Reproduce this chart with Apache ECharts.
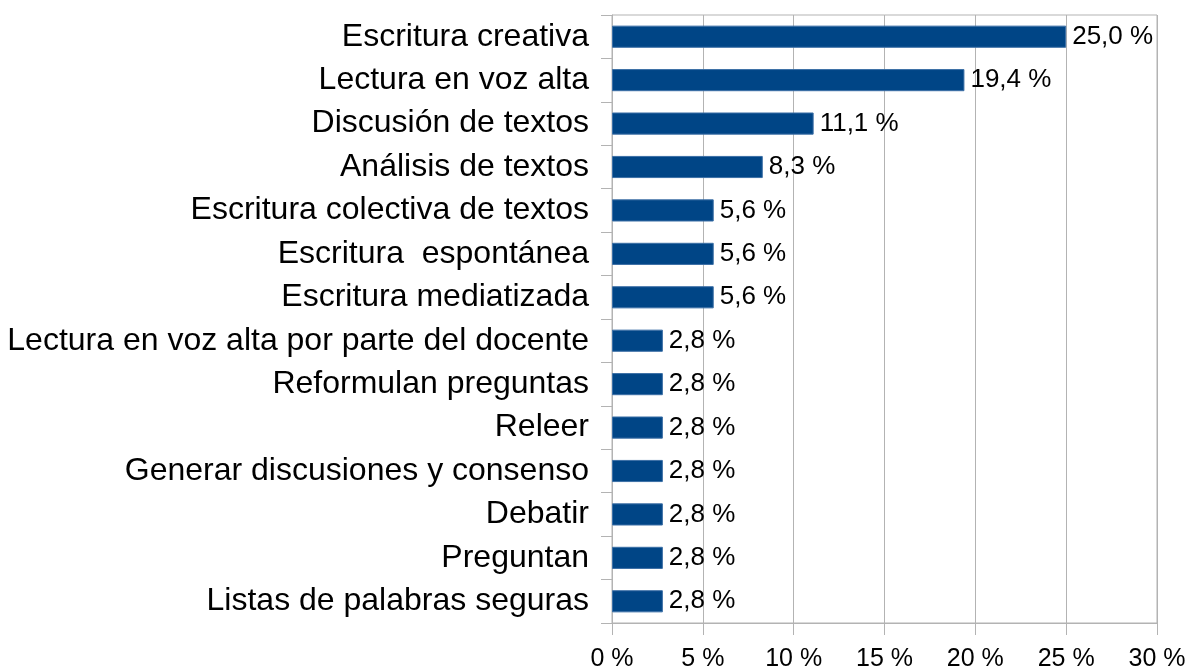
<!DOCTYPE html>
<html>
<head>
<meta charset="utf-8">
<script src="https://cdn.jsdelivr.net/npm/echarts@6/dist/echarts.min.js"></script>
<style>
    html, body { margin: 0; padding: 0; background: #fff; }
    #chart { width: 1188px; height: 666px; }
</style>
</head>
<body>
<div id="chart"></div>
<script>
    // categories top to bottom
    let categories = [
        'Escritura creativa',
        'Lectura en voz alta',
        'Discusión de textos',
        'Análisis de textos',
        'Escritura colectiva de textos',
        'Escritura  espontánea',
        'Escritura mediatizada',
        'Lectura en voz alta por parte del docente',
        'Reformulan preguntas',
        'Releer',
        'Generar discusiones y consenso',
        'Debatir',
        'Preguntan',
        'Listas de palabras seguras'
    ]
    let values = [25.0, 19.4, 11.1, 8.3, 5.6, 5.6, 5.6, 2.8, 2.8, 2.8, 2.8, 2.8, 2.8, 2.8]
    let axisMin = 0
    let axisMax = 30
    let axisStep = 5

    let gray = '#b3b3b3'
    let font = '"Liberation Sans", Arial, sans-serif'

    let myChart = echarts.init(document.getElementById('chart'))
    const option = {
        animation: false,
        color: ['#004586'],
        grid: {
            left: 612,
            right: 31,
            top: 15,
            bottom: 43,
            outerBoundsMode: 'none',
            containLabel: false,
            show: true,
            borderColor: gray,
            borderWidth: 1
        },
        xAxis: {
            type: 'value',
            min: axisMin,
            max: axisMax,
            interval: axisStep,
            axisLine: { show: true, lineStyle: { color: gray } },
            axisTick: { show: true, length: 12, lineStyle: { color: gray } },
            splitLine: { show: true, lineStyle: { color: gray } },
            axisLabel: {
                formatter: '{value} %',
                color: '#000',
                fontSize: 25,
                fontFamily: font,
                margin: 24
            }
        },
        yAxis: {
            type: 'category',
            data: categories,
            inverse: true,
            axisLine: { show: true, lineStyle: { color: gray } },
            axisTick: { show: true, length: 11, lineStyle: { color: gray } },
            splitLine: { show: false },
            axisLabel: {
                color: '#000',
                fontSize: 32,
                fontFamily: font,
                margin: 23
            }
        },
        series: [
            {
                type: 'bar',
                data: values,
                barWidth: '51%',
                itemStyle: { color: '#004586', borderColor: '#3b6fa6', borderWidth: 1 },
                label: {
                    show: true,
                    position: 'right',
                    distance: 6,
                    color: '#000',
                    fontSize: 26,
                    fontFamily: font,
                    formatter: function (p) {
                        return p.value.toFixed(1).replace('.', ',') + ' %'
                    }
                }
            }
        ]
    }
    myChart.setOption(option)
</script>
</body>
</html>
